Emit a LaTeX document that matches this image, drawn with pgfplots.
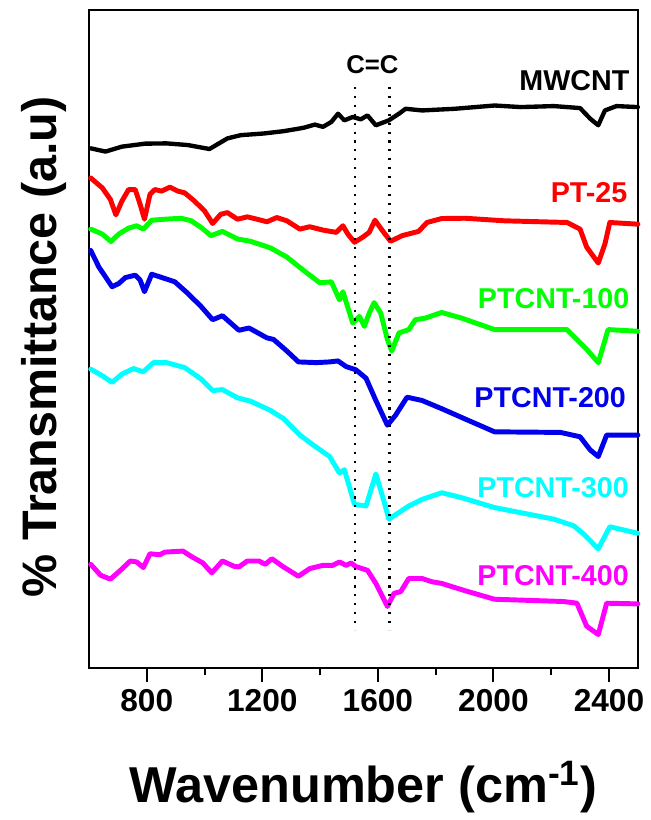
\documentclass[border=0pt]{standalone}
\usepackage{fontspec}
\setmainfont{Liberation Sans}
\usepackage{pgfplots}
\pgfplotsset{compat=1.18}

\definecolor{cred}{RGB}{255,0,0}
\definecolor{cgreen}{RGB}{0,255,0}
\definecolor{cblue}{RGB}{0,0,235}
\definecolor{ccyan}{RGB}{0,255,255}
\definecolor{cmag}{RGB}{255,0,255}

\begin{document}
\begin{tikzpicture}
\begin{axis}[
  width=277.5pt, height=333pt, scale only axis,
  xmin=600, xmax=2500, ymin=0, ymax=666,
  xtick={800,1200,1600,2000,2400},
  minor x tick num=1,
  ytick=\empty,
  xtick pos=bottom,
  tick align=outside,
  major tick length=7pt, minor tick length=3.5pt,
  axis line style={line width=1pt},
  every tick/.style={black, line width=1pt},
  /pgf/number format/assume math mode=true,
  /pgf/number format/1000 sep={},
  xticklabel style={font=\bfseries\fontsize{16}{17}\selectfont},
  xlabel={\bfseries Wavenumber (cm\textsuperscript{-1})},
  xlabel style={font=\fontsize{25.5}{27}\selectfont, at={(axis description cs:0.5,-0.2042)}, anchor=base},
  ylabel={\bfseries \% Transmittance (a.u)},
  ylabel style={font=\fontsize{24.5}{26}\selectfont, at={(axis description cs:-0.0595,0.488)}, anchor=base, rotate=0},
  every axis plot/.append style={line join=round, line cap=round},
  clip=false,
]
% MWCNT
\addplot[black, line width=2.2pt] coordinates {
(606,526)(657,522.7)(714,527.7)(794,530.7)(868,531)(942,529.3)(1017,525.3)(1079,536)
(1125,539.3)(1205,541)(1273,543.3)(1342,546.7)(1382,550)(1410,547.7)(1439,552.7)(1462,561)
(1484,554.3)(1513,557.7)(1541,555.3)(1564,559.3)(1593,549.3)(1638,554.3)(1673,561)(1696,566)
(1753,564.3)(1867,566)(2004,569.3)(2095,567.7)(2209,568.7)(2300,566.7)(2335,556)(2363,549.3)
(2386,564.3)(2426,568.7)(2500,567.7)
};
% PT-25
\addplot[cred, line width=2.5pt] coordinates {
(606,496)(646,486)(674,474.3)(693,458.7)(714,472.7)(737,484.3)(760,484.3)(777,469.3)
(792,454.3)(811,479.3)(828,484.3)(851,482.7)(880,486.7)(908,482.7)(931,481)(965,472.7)
(1000,462.7)(1028,450)(1056,459.3)(1079,461)(1114,454.3)(1148,456.7)(1182,454.3)(1216,451.7)
(1250,456)(1285,452.7)(1330,444.3)(1364,446.7)(1410,443.3)(1456,441)(1479,447.7)(1496,439.3)
(1519,431)(1547,436)(1570,441)(1590,453.3)(1616,442.7)(1644,432)(1684,437.7)(1741,442)
(1770,451)(1821,455)(1901,455.3)(2038,452.7)(2255,451)(2300,444.3)(2323,426)(2363,410)
(2386,429.3)(2403,451)(2500,449.3)
};
% PTCNT-100
\addplot[cgreen, line width=2.5pt] coordinates {
(606,444.3)(646,439.3)(676,431.7)(703,439.3)(737,445.3)(765,447.7)(788,444.3)(817,453.3)
(863,454.3)(919,455.3)(954,452.7)(988,446)(1022,437.7)(1062,442)(1114,434.3)(1159,432)
(1228,425.3)(1285,416)(1342,402.7)(1399,390)(1439,391)(1467,372.7)(1479,381)(1513,349.3)
(1536,356)(1553,346)(1570,359.3)(1587,370)(1610,359.3)(1633,332.7)(1648,321)(1673,339.3)
(1707,342.7)(1730,352.7)(1764,354.3)(1821,360)(1890,354.3)(2004,342.7)(2255,342.7)(2323,322.7)
(2363,309.3)(2397,342.7)(2500,341)
};
% PTCNT-200
\addplot[cblue, line width=2.5pt] coordinates {
(606,422.7)(634,406)(680,386)(703,389.3)(726,395.3)(760,397.7)(777,392.7)(792,381)
(817,398.7)(863,394.3)(897,391)(942,379.3)(988,366)(1028,352.7)(1062,356.7)(1119,342)
(1154,344.3)(1216,334.3)(1239,332.7)(1285,321)(1325,310)(1387,309.3)(1433,310)(1462,311)
(1490,305.3)(1524,302)(1559,293.5)(1593,271)(1633,246)(1661,256)(1701,274.3)(1753,271)
(1821,262.7)(1912,251)(2004,239.3)(2232,238.7)(2300,234.3)(2335,221)(2363,214.3)(2392,236)
(2500,236)
};
% PTCNT-300
\addplot[ccyan, line width=2.5pt] coordinates {
(606,302.7)(646,296)(680,289.3)(714,297.7)(754,303.3)(788,300)(823,309.3)(868,309.3)
(931,304.3)(988,292.7)(1028,281)(1062,282)(1114,273.7)(1159,270.3)(1228,261)(1273,252.7)
(1330,236)(1376,226)(1433,214.3)(1467,197.7)(1484,201)(1519,166)(1559,164.3)(1593,196.7)
(1621,169.3)(1638,151)(1673,157.7)(1707,164.3)(1753,171)(1821,177.7)(1890,172.7)(2004,162.7)
(2209,151)(2278,144.3)(2312,136)(2363,121)(2403,143.3)(2500,136.7)
};
% PTCNT-400
\addplot[cmag, line width=2.5pt] coordinates {
(606,105.3)(640,94.3)(674,90.3)(709,99.3)(743,108.7)(765,107.7)(788,102)(811,116)
(845,115)(863,117.7)(925,118.7)(954,113.3)(994,106.7)(1025,96.7)(1062,108.7)(1102,103.3)
(1119,102.7)(1148,108.7)(1188,108.7)(1210,105.3)(1233,111)(1273,102.7)(1325,93.3)(1364,101)
(1410,104.3)(1444,104.3)(1467,107.7)(1490,104.3)(1507,106.7)(1524,103)(1564,99.3)(1593,86)
(1633,62.7)(1656,76)(1679,77.7)(1707,91)(1753,91)(1787,87.7)(1821,86)(1901,78.7)
(2004,70)(2243,67.7)(2289,66)(2323,42.7)(2363,34.3)(2392,66)(2500,65.3)
};
% C=C guide lines
\addplot[black, line width=1.1pt, line cap=butt, dash pattern=on 1.1pt off 3.4pt] coordinates {(1520,588)(1520,39)};
\addplot[black, line width=1.1pt, line cap=butt, dash pattern=on 1.1pt off 3.4pt] coordinates {(1640,588)(1640,39)};

\node[font=\bfseries\fontsize{13}{14}\selectfont] at (axis cs:1581,611) {C=C};
\node[anchor=east, inner sep=0pt, font=\bfseries\fontsize{14.5}{15}\selectfont, text=black] at (axis cs:2472,594.3) {MWCNT};
\node[anchor=east, inner sep=0pt, font=\bfseries\fontsize{14.5}{15}\selectfont, text=cred] at (axis cs:2465,481) {PT-25};
\node[anchor=east, inner sep=0pt, font=\bfseries\fontsize{14.5}{15}\selectfont, text=cgreen] at (axis cs:2472,374.3) {PTCNT-100};
\node[anchor=east, inner sep=0pt, font=\bfseries\fontsize{14.5}{15}\selectfont, text=cblue] at (axis cs:2460,274.3) {PTCNT-200};
\node[anchor=east, inner sep=0pt, font=\bfseries\fontsize{14.5}{15}\selectfont, text=ccyan] at (axis cs:2470,183) {PTCNT-300};
\node[anchor=east, inner sep=0pt, font=\bfseries\fontsize{14.5}{15}\selectfont, text=cmag] at (axis cs:2470,94.3) {PTCNT-400};

\coordinate (tl) at (rel axis cs:-0.1622,1.01502);
\coordinate (br) at (rel axis cs:1.0216,-0.2162);
\end{axis}
\path (tl) rectangle (br);
\end{tikzpicture}
\end{document}
